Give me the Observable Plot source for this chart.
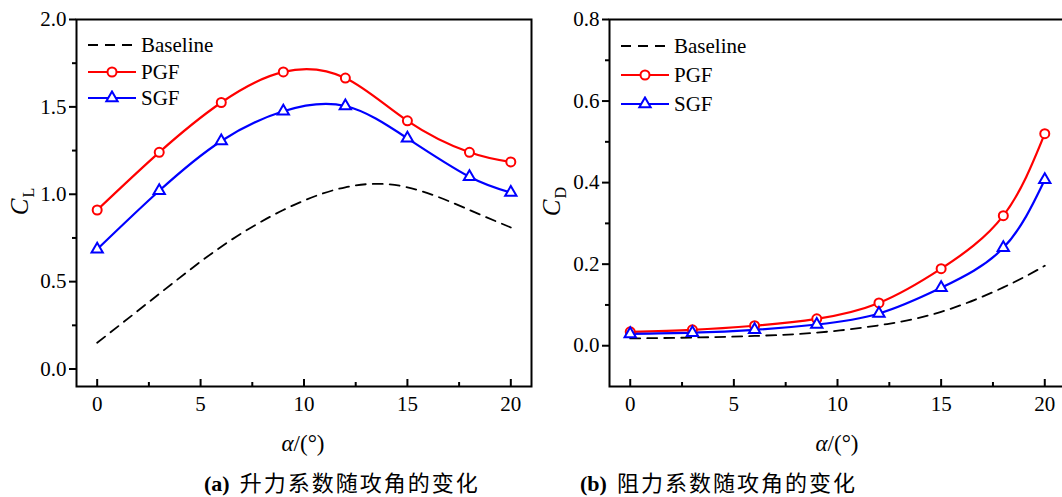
<!DOCTYPE html>
<html>
<head>
<meta charset="utf-8">
<script src="https://cdn.jsdelivr.net/npm/d3@7"></script>
<script src="https://cdn.jsdelivr.net/npm/@observablehq/plot@0.6"></script>
<style>
  html, body { margin: 0; padding: 0; background: #fff; }
  #wrap { position: relative; width: 1062px; height: 497px; overflow: hidden; background: #fff; }
  .abs { position: absolute; white-space: nowrap; color: #000; }
  .serif { font-family: "Liberation Serif", "Times New Roman", serif; }
  .cjk { font-family: "Noto Sans CJK SC", sans-serif; }
  .leg { position: absolute; font-family: "Liberation Serif", serif; font-size: 21px; line-height: 26px; }
  .leg div { height: 26px; display: flex; align-items: center; }
  .leg svg { margin-right: 5px; }
</style>
</head>
<body>
<div id="wrap"></div>
<script>
// ---- data ----
const angles = [0, 3, 6, 9, 12, 15, 18, 20];
const series = ["Baseline", "PGF", "SGF"];

const clBaseline = [0.15, 0.43, 0.70, 0.91, 1.04, 1.04, 0.91, 0.81];
const clPGF      = [0.91, 1.24, 1.525, 1.70, 1.665, 1.42, 1.24, 1.185];
const clSGF      = [0.685, 1.02, 1.305, 1.475, 1.505, 1.32, 1.10, 1.01];

const cdBaseline = [0.018, 0.020, 0.024, 0.032, 0.050, 0.083, 0.143, 0.196];
const cdPGF      = [0.034, 0.039, 0.049, 0.066, 0.105, 0.189, 0.319, 0.52];
const cdSGF      = [0.029, 0.032, 0.039, 0.052, 0.079, 0.142, 0.24, 0.407];

const xTicks  = [0, 5, 10, 15, 20];
const xMinor  = [2.5, 7.5, 12.5, 17.5];
const clTicks = [0, 0.5, 1.0, 1.5, 2.0];
const clMinor = [0.25, 0.75, 1.25, 1.75];
const cdTicks = [0, 0.2, 0.4, 0.6, 0.8];
const cdMinor = [0.1, 0.3, 0.5, 0.7];

const captions = ["升力系数随攻角的变化", "阻力系数随攻角的变化"];

// ---- drawing ----
const wrap = document.getElementById("wrap");
const frameTop = 19, frameBottom = 386, H = 430;
const dash = "10,7";

function rows(vals) { return angles.map((a, i) => ({a, v: vals[i]})); }

function panel({yDomain, yTicks, yMinor, base, pgf, sgf, width, marginLeft, marginRight}) {
  const fh = frameBottom - frameTop;
  return Plot.plot({
    width, height: H, marginLeft, marginRight, marginTop: frameTop, marginBottom: H - frameBottom,
    x: {domain: [-1, 21]},
    y: {domain: yDomain},
    style: {fontFamily: "'Liberation Serif', 'Times New Roman', serif", fontSize: "21px", color: "#000", background: "transparent", overflow: "visible"},
    marks: [
      Plot.line(rows(base), {x: "a", y: "v", curve: "natural", stroke: "#000", strokeWidth: 1.8, strokeDasharray: dash}),
      Plot.line(rows(pgf), {x: "a", y: "v", curve: "natural", stroke: "#ff0000", strokeWidth: 2.2}),
      Plot.line(rows(sgf), {x: "a", y: "v", curve: "natural", stroke: "#0000ff", strokeWidth: 2.2}),
      Plot.dot(rows(pgf), {x: "a", y: "v", r: 4.5, stroke: "#ff0000", fill: "#fff", strokeWidth: 2}),
      Plot.dot(rows(sgf), {x: "a", y: "v", symbol: "triangle", r: 4.2, stroke: "#0000ff", fill: "#fff", strokeWidth: 2}),
      Plot.axisX(xTicks, {tickSize: 0, tickPadding: 10, label: null, tickFormat: d => String(d)}),
      Plot.tickX(xTicks, {x: d => d, insetTop: fh - 7, stroke: "#000", strokeWidth: 2}),
      Plot.tickX(xMinor, {x: d => d, insetTop: fh - 4, stroke: "#000", strokeWidth: 2}),
      Plot.axisY(yTicks, {tickSize: 7, tickPadding: 3, tickFormat: d => d.toFixed(1), label: null, strokeWidth: 2}),
      Plot.axisY(yMinor, {tickSize: 4, tickFormat: () => "", label: null, strokeWidth: 2}),
      Plot.frame({stroke: "#000", strokeWidth: 2})
    ]
  });
}

function place(el, left, top) {
  el.style.position = "absolute";
  el.style.left = left + "px";
  el.style.top = top + "px";
  wrap.appendChild(el);
  return el;
}

const left = panel({yDomain: [-0.1, 2.0], yTicks: clTicks, yMinor: clMinor, base: clBaseline, pgf: clPGF, sgf: clSGF,
  width: 545, marginLeft: 76, marginRight: 14});
place(left, 0, 0);

const right = panel({yDomain: [-0.1, 0.8], yTicks: cdTicks, yMinor: cdMinor, base: cdBaseline, pgf: cdPGF, sgf: cdSGF,
  width: 535, marginLeft: 69, marginRight: 10});
place(right, 540, 0);

function html(s, left, top, cls, extra) {
  const d = document.createElement("div");
  d.className = "abs " + (cls || "");
  d.innerHTML = s;
  d.style.left = left + "px";
  d.style.top = top + "px";
  if (extra) Object.assign(d.style, extra);
  wrap.appendChild(d);
  return d;
}

// y-axis titles (rotated)
function yTitle(sub, cx, cy) {
  const d = html(`<i>C</i><span style="font-size:16px;position:relative;top:6px;margin-left:1px">${sub}</span>`, 0, 0, "serif",
    {fontSize: "25px", lineHeight: "30px"});
  const w = d.offsetWidth, h = d.offsetHeight;
  d.style.left = (cx - w / 2) + "px";
  d.style.top = (cy - h / 2) + "px";
  d.style.transform = "rotate(-90deg)";
}
yTitle("L", 21, 201);
yTitle("D", 553, 201);

// x-axis titles
function xTitle(cx, cy) {
  const d = html(`<i>α</i>/(°)`, 0, 0, "serif", {fontSize: "23px", lineHeight: "26px"});
  d.style.left = (cx - d.offsetWidth / 2) + "px";
  d.style.top = (cy - d.offsetHeight / 2) + "px";
}
xTitle(303, 444);
xTitle(837, 444);

// captions
function caption(tag, text, left) {
  html(`<b class="serif">${tag}</b><span class="cjk" style="margin-left:10px;letter-spacing:2px">${text}</span>`, left, 469, "", {fontSize: "22px", lineHeight: "24px"});
}
caption("(a)", captions[0], 204);
caption("(b)", captions[1], 580);

// legends
function swatch(kind) {
  const w = 48, h = 16;
  let s = `<svg width="${w}" height="${h}" viewBox="0 0 ${w} ${h}">`;
  if (kind === "Baseline") {
    s += `<line x1="0" y1="8" x2="${w}" y2="8" stroke="#000" stroke-width="1.8" stroke-dasharray="${dash}"/>`;
  } else if (kind === "PGF") {
    s += `<line x1="0" y1="8" x2="${w}" y2="8" stroke="#ff0000" stroke-width="2.2"/>`;
    s += `<circle cx="${w/2}" cy="8" r="4.5" fill="#fff" stroke="#ff0000" stroke-width="2"/>`;
  } else {
    s += `<line x1="0" y1="8" x2="${w}" y2="8" stroke="#0000ff" stroke-width="2.2"/>`;
    s += `<path d="${d3.symbol(d3.symbolTriangle, Math.PI * 4.2 * 4.2)()}" transform="translate(${w/2},8)" fill="#fff" stroke="#0000ff" stroke-width="2"/>`;
  }
  return s + `</svg>`;
}
function legend(left, top, rowH) {
  const d = document.createElement("div");
  d.className = "leg";
  d.style.left = left + "px";
  d.style.top = top + "px";
  d.innerHTML = series.map(k => `<div style="height:${rowH}px">${swatch(k)}<span>${k}</span></div>`).join("");
  wrap.appendChild(d);
}
legend(88, 32, 26.5);
legend(621, 32, 28.8);
</script>
</body>
</html>
